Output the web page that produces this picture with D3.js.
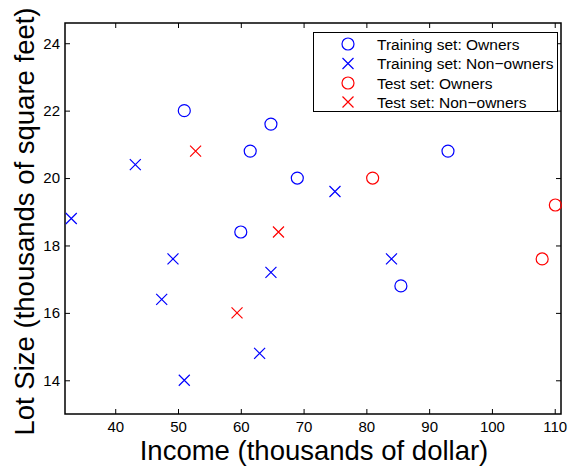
<!DOCTYPE html>
<html>
<head>
<meta charset="utf-8">
<script src="https://cdn.jsdelivr.net/npm/d3@7"></script>
<style>
  html, body { margin: 0; padding: 0; background: #fff; }
  svg { display: block; font-family: "Liberation Sans", Arial, Helvetica, sans-serif; }
</style>
</head>
<body>
<svg id="chart" width="569" height="466"></svg>
<script>
// Riding-mower data: income (k$) and lot size (k sq ft)
const trainOwnersIncome = [60, 85.5, 64.8, 61.5, 69, 93, 51];
const trainOwnersLot    = [18.4, 16.8, 21.6, 20.8, 20, 20.8, 22];
const trainNonIncome    = [75, 64.8, 43.2, 84, 49.2, 47.4, 33, 51, 63];
const trainNonLot       = [19.6, 17.2, 20.4, 17.6, 17.6, 16.4, 18.8, 14, 14.8];
const testOwnersIncome  = [81, 110.1, 108];
const testOwnersLot     = [20, 19.2, 17.6];
const testNonIncome     = [52.8, 66, 59.4];
const testNonLot        = [20.8, 18.4, 16];

const xTicks = [40, 50, 60, 70, 80, 90, 100, 110];
const yTicks = [14, 16, 18, 20, 22, 24];

const seriesNames = ["Training set: Owners", "Training set: Non\u2212owners",
                     "Test set: Owners", "Test set: Non\u2212owners"];

const series = [
  { name: seriesNames[0], xs: trainOwnersIncome, ys: trainOwnersLot, shape: "o", color: "#0000ff" },
  { name: seriesNames[1], xs: trainNonIncome,    ys: trainNonLot,    shape: "x", color: "#0000ff" },
  { name: seriesNames[2], xs: testOwnersIncome,  ys: testOwnersLot,  shape: "o", color: "#ff0000" },
  { name: seriesNames[3], xs: testNonIncome,     ys: testNonLot,     shape: "x", color: "#ff0000" }
];

const svg = d3.select("#chart");
const plotL = 65, plotR = 561, plotT = 23, plotB = 414;

const x = d3.scaleLinear().domain([32, 111]).range([plotL, plotR]);
const y = d3.scaleLinear().domain([13, 24.6]).range([plotB, plotT]);

const tickFont = 15;

// axes with inward ticks on all four sides
const gx = svg.append("g").attr("transform", `translate(0,${plotB})`)
  .call(d3.axisBottom(x).tickValues(xTicks).tickSizeInner(-5).tickSizeOuter(0).tickPadding(7));
const gy = svg.append("g").attr("transform", `translate(${plotL},0)`)
  .call(d3.axisLeft(y).tickValues(yTicks).tickSizeInner(-5).tickSizeOuter(0).tickPadding(5));
const gt = svg.append("g").attr("transform", `translate(0,${plotT})`)
  .call(d3.axisTop(x).tickValues(xTicks).tickSizeInner(-5).tickSizeOuter(0).tickFormat(""));
const gr = svg.append("g").attr("transform", `translate(${plotR},0)`)
  .call(d3.axisRight(y).tickValues(yTicks).tickSizeInner(-5).tickSizeOuter(0).tickFormat(""));

[gx, gy, gt, gr].forEach(g => {
  g.select(".domain").remove();
  g.selectAll(".tick line").attr("stroke", "#000").attr("stroke-width", 1);
  g.selectAll(".tick text").attr("fill", "#000").style("font-size", tickFont + "px")
    .style("font-family", "'Liberation Sans', Arial, sans-serif");
});

// plot frame
svg.append("rect")
  .attr("x", plotL).attr("y", plotT)
  .attr("width", plotR - plotL).attr("height", plotB - plotT)
  .attr("fill", "none").attr("stroke", "#000").attr("stroke-width", 1.5);

// markers
function drawMarker(g, cx, cy, shape, color) {
  if (shape === "o") {
    g.append("circle").attr("cx", cx).attr("cy", cy).attr("r", 6)
      .attr("fill", "none").attr("stroke", color).attr("stroke-width", 1.2);
  } else {
    const s = 5.5;
    g.append("path")
      .attr("d", `M${cx - s},${cy - s}L${cx + s},${cy + s}M${cx - s},${cy + s}L${cx + s},${cy - s}`)
      .attr("fill", "none").attr("stroke", color).attr("stroke-width", 1.2);
  }
}

const pts = svg.append("g");
series.forEach(s => {
  s.xs.forEach((v, i) => drawMarker(pts, x(v), y(s.ys[i]), s.shape, s.color));
});

// legend
const lg = svg.append("g");
lg.append("rect").attr("x", 313.5).attr("y", 32.5).attr("width", 244).attr("height", 79)
  .attr("fill", "#fff").attr("stroke", "#000").attr("stroke-width", 1);
const rowY = [44, 63.5, 83, 102];
series.forEach((s, i) => {
  drawMarker(lg, 348, rowY[i], s.shape, s.color);
  lg.append("text").attr("x", 377).attr("y", rowY[i] + 5.5)
    .style("font-size", "15.5px").attr("fill", "#000").text(s.name);
});

// axis titles
svg.append("text").attr("x", (plotL + plotR) / 2 + 1).attr("y", 460)
  .attr("text-anchor", "middle").style("font-size", "27.5px").attr("fill", "#000")
  .text("Income (thousands of dollar)");
svg.append("text")
  .attr("transform", `translate(34,${(plotT + plotB) / 2 + 3}) rotate(-90)`)
  .attr("text-anchor", "middle").style("font-size", "27.5px").attr("fill", "#000")
  .text("Lot Size (thousands of square feet)");
</script>
</body>
</html>
